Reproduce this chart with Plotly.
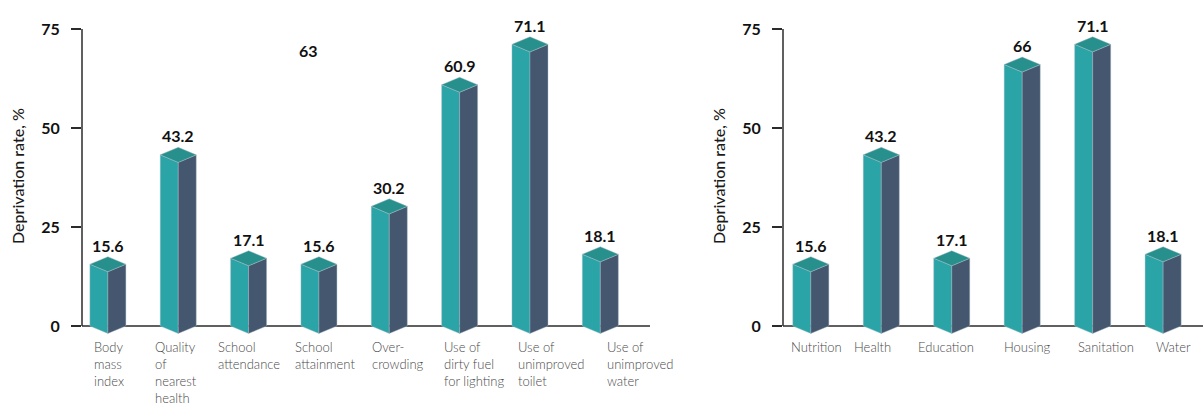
import plotly.graph_objects as go

# Left panel: individual deprivation indicators
indicators = [
    "Body<br>mass<br>index",
    "Quality<br>of<br>nearest<br>health",
    "School<br>attendance",
    "School<br>attainment",
    "Over-<br>crowding",
    "Use of<br>dirty fuel<br>for lighting",
    "Use of<br>unimproved<br>toilet",
    "Use of<br>unimproved<br>water",
]
indicator_rates = [15.6, 43.2, 17.1, 15.6, 30.2, 60.9, 71.1, 18.1]

# Right panel: deprivation by dimension
dimensions = ["Nutrition", "Health", "Education", "Housing", "Sanitation", "Water"]
dimension_rates = [15.6, 43.2, 17.1, 66, 71.1, 18.1]

# Stand-alone value label shown on the left panel (no column attached)
loose_value = 63
loose_slot = 3

y_ticks = [0, 25, 50, 75]

# Category label nudges (px) so the wrapped texts sit under their columns
indicator_label_shift = [-16, -25, -33, -26, -19, -18, -14, 5]
dimension_label_shift = [6, -9, -6, 5, 13, 10]

FRONT = "#2ba4a7"
SIDE = "#44576f"
TOP = "#27908c"
EDGE = "rgba(170,190,200,0.7)"
INK = "#111111"
AXIS = "#2b2b2b"
FONT = "Lato"

HALF_W = 0.256   # half column width, in slot units
DEPTH = 1.9      # drop of the front vertex / rise of the back vertex, in % units
LABEL_LIFT = 19  # px between column value and its label


def prism_faces(values):
    """Polygons (front, side, top) of square columns seen from a corner."""
    fx, fy, sx, sy, tx, ty = [], [], [], [], [], []
    for i, v in enumerate(values):
        l, c, r = i - HALF_W, i, i + HALF_W
        fx += [l, c, c, l, l, None]
        fy += [0, -DEPTH, v - DEPTH, v, 0, None]
        sx += [c, r, r, c, c, None]
        sy += [-DEPTH, 0, v, v - DEPTH, -DEPTH, None]
        tx += [l, c, r, c, l, None]
        ty += [v, v - DEPTH, v, v + DEPTH, v, None]
    return [(fx, fy, FRONT), (sx, sy, SIDE), (tx, ty, TOP)]


fig = go.Figure()

for values, xa, ya in [(indicator_rates, "x", "y"), (dimension_rates, "x2", "y2")]:
    for px_, py_, col in prism_faces(values):
        fig.add_trace(go.Scatter(
            x=px_, y=py_, xaxis=xa, yaxis=ya, mode="lines", fill="toself",
            fillcolor=col, line=dict(color=EDGE, width=0.6),
            hoverinfo="skip", showlegend=False,
        ))

W, H = 1203, 406
left_dom = [82 / W, 650 / W]
right_dom = [783 / W, 1.0]
y_range = [-20.2, 82.3]

yaxis_common = dict(
    range=y_range, domain=[0, 1], tickvals=y_ticks, ticks="outside", ticklen=10,
    tickwidth=1.5, tickcolor=AXIS, showgrid=False, zeroline=False, showline=False,
    tickfont=dict(family=FONT, size=16, color=INK, weight=700),
    ticklabelstandoff=8,
)
xaxis_common = dict(visible=False, showgrid=False, zeroline=False)

fig.update_layout(
    width=W, height=H, margin=dict(l=0, r=0, t=0, b=0),
    paper_bgcolor="white", plot_bgcolor="white", showlegend=False,
    xaxis=dict(domain=left_dom, range=[-0.368, 7.706], anchor="y", **xaxis_common),
    yaxis=dict(anchor="x", **yaxis_common),
    xaxis2=dict(domain=right_dom, range=[-0.395, 5.566], anchor="y2", **xaxis_common),
    yaxis2=dict(anchor="x2", **yaxis_common),
)

# Axis lines: vertical from 0 to the top tick, horizontal baseline along the panel
for xr, yr in [("x", "y"), ("x2", "y2")]:
    fig.add_shape(type="line", xref=f"{xr} domain", yref=yr, x0=0, x1=0,
                  y0=y_ticks[0], y1=y_ticks[-1], line=dict(color=AXIS, width=1.5), layer="below")
    fig.add_shape(type="line", xref=f"{xr} domain", yref=yr, x0=0, x1=1,
                  y0=0, y1=0, line=dict(color=AXIS, width=1.5), layer="below")

annotations = []
value_font = dict(family=FONT, size=16, color=INK, weight=700)

for i, v in enumerate(indicator_rates):
    annotations.append(dict(x=i, y=v, xref="x", yref="y", text=f"{v:g}", showarrow=False,
                            yshift=LABEL_LIFT, font=value_font))
annotations.append(dict(x=loose_slot, y=loose_value, xref="x", yref="y", text=f"{loose_value:g}",
                        showarrow=False, yshift=LABEL_LIFT + 7, xshift=-10, font=value_font))
for i, v in enumerate(dimension_rates):
    annotations.append(dict(x=i, y=v, xref="x2", yref="y2", text=f"{v:g}", showarrow=False,
                            yshift=LABEL_LIFT, font=value_font))

cat_font = dict(family=FONT, size=13, color="#4a4a4a", weight=300)
for i, name in enumerate(indicators):
    annotations.append(dict(x=i, y=1 - 337 / H, xref="x", yref="paper", text=name,
                            showarrow=False, xanchor="left", yanchor="top", align="left",
                            xshift=indicator_label_shift[i], font=cat_font))
for i, name in enumerate(dimensions):
    annotations.append(dict(x=i, y=1 - 337 / H, xref="x2", yref="paper", text=name,
                            showarrow=False, xanchor="center", yanchor="top",
                            xshift=dimension_label_shift[i], font=cat_font))

title_font = dict(family=FONT, size=16, color="#1a1a1a", weight=500)
for xc in (17, 718):
    annotations.append(dict(x=xc / W, y=1 - 176 / H, xref="paper", yref="paper",
                            text="Deprivation rate, %", textangle=-90, showarrow=False,
                            xanchor="center", yanchor="middle", font=title_font))

fig.update_layout(annotations=annotations)
fig.write_html("out.html")
